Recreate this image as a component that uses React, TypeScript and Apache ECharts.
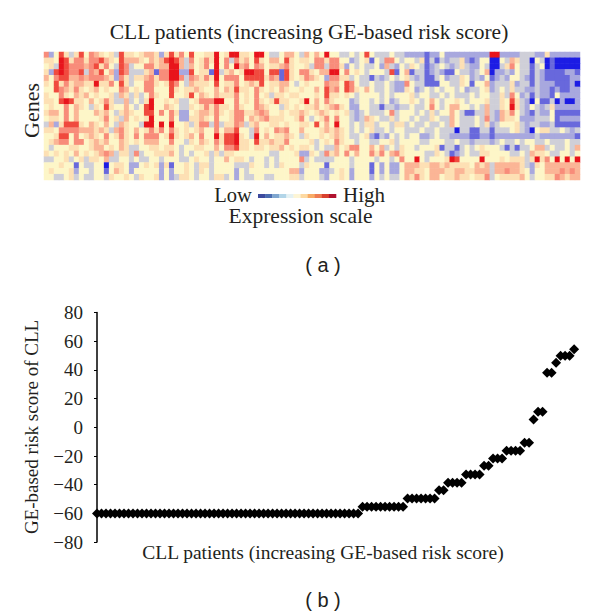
import React, { useEffect, useRef } from "react";
import * as echarts from "echarts";

// Expression level (0 = strong blue ... 9 = bright red), per block of columns
const blockA = [
  "724853584765453855","554985775778654866","453987776785743873","528987783768462873",
  "647886676777652753","548575665595574853","448765754564544764","544754656454453653",
  "554898554645753363","454474654354854464","566474644465643565","455474644445745364",
  "362588854654643654","554777766656536754","445884745654745754","456774774565644654",
  "434445544566454653","545454645456763553","334453453554633443","444544143344045542",
  "454445244344146542","443345343344354454",
];
const blockB = [
  "456652585748445594","654656898637457594","447756699636457494","335617799228455193",
  "556757799737657594","447754587436555484","547744485455654464","534754484458465465",
  "435944545334577799","348944654335457575","448847475224566575","545944474225565474",
  "439949494453577373","645757475454564474","747774585456474495","546664474435465475",
  "344554554344554464","734455564343445353","433443444334544344","245452514454355344",
  "444442424454354344","354452423554344355",
];
const blockC = [
  "599554994334664364","737564854664854554","749674764556754453","564599884881854775",
  "777488885761854576","557456584556643454","658554754546544544","557454745355455444",
  "447454754585544594","547544765443545455","457755676445455654","457746567555445743",
  "557635644554544554","668443745476744644","889543946455654354","889554855655744445",
  "778554554556454554","554444444334445225","645543443434444734","443335443435444354",
  "442434444444466244","342433443344455344",
];
const blockD = [
  "649443343484333433","775774423451437743","773775243433426324","466994745434443814",
  "542775534331323434","447664874334334322","648674875464334322","548554543444434344",
  "647544423443434234","645675422443313323","565454532343334734","457474432365433534",
  "846494434355344355","456565434345334344","454565433452132434","345475443443344534",
  "343364577446463435","437564746447574675","333344434444344347","441444434441424224",
  "422345424441424224","432445424442434334",
];
const blockE = [
  "222212242222222229","443513132335212440","354312343235322430","613312321143323460",
  "532311342335423241","743311144335414462","542343434434233452","453443343433343443",
  "454346434454344453","343347434664434363","443435344643113363","434335433643334373",
  "343343343643334352","333433433303311331","344223433222211221","444334443343323332",
  "443444513313434544","444433543123433554","449434445984444944","666556656555546563",
  "665546665566556663","657546645565545573",
];
const blockF = [
  "92222333225222222","04365330430100000","03574331340100000","22324331321111221",
  "23244321321111122","33352331322211120","34353322322121122","35374231322142222",
  "35485320411302002","35495324323522222","26574321322411111","26554222333412222",
  "34445323322311111","33345320455334323","22222222322222221","34334344334333433",
  "43131334663433436","44433436554334434","45455535957494949","66666532546666666",
  "66766542446667676","45555643445576566",
];
const levelColors = [
  "#1c1ce4","#6868dc","#a8a8de","#cfcfd8","#fdf6c8",
  "#fde0b4","#fbb596","#f88c7a","#f04a3e","#e8141c",
];
const legendColors = [
  "#3d4a9e","#4a6cb0","#7fa6cf","#b2d5e8","#e4f1f3","#fdf5d5",
  "#fdd9a2","#f8ab66","#ee7c52","#d8412f","#b0122f",
];
// GE-based risk score per patient, in order
const riskFlat = [
  -60,-60,-60,-60,-60,-60,-60,-60,-60,-60,
  -60,-60,-60,-60,-60,-60,-60,-60,-60,-60,
  -60,-60,-60,-60,-60,-60,-60,-60,-60,-60,
  -60,-60,-60,-60,-60,-60,-60,-60,-60,-60,
  -60,-60,-60,-60,-60,-60,-60,-60,-60,-60,
  -60,-60,-60,-60,-60,-60,-60,-60,-60,
];
const riskRising = [
  -55.4,-55.4,-55.4,-55.4,-55.4,-55.4,-55.4,-55.4,-55.4,-55.4,
  -49.6,-49.6,-49.6,-49.6,-49.6,-49.6,-49.6,
  -43.8,-43.8,
  -38.7,-38.7,-38.7,-38.7,
  -32.9,-32.9,-32.9,-32.9,
  -26.8,-26.8,
  -21.7,-21.7,-21.7,
  -16.4,-16.4,-16.4,-16.4,
  -10.8,-10.8,
  5.5,10.8,10.8,38,38,45,49.9,49.9,49.9,54.4,
];
const heatTitle = "CLL patients (increasing GE-based risk score)";
const scatterXName = "CLL patients (increasing GE-based risk score)";
const scatterYName = "GE-based risk score of CLL";

const SERIF = "'Liberation Serif', serif";
const SANS = "'Liberation Sans', sans-serif";

export default function App() {
  const ref = useRef<HTMLDivElement>(null);
  useEffect(() => {
    if (!ref.current) return;
    const chart = echarts.init(ref.current, undefined, { renderer: "svg" });
    const rows = blockA.map((_, r) =>
      blockA[r] + blockB[r] + blockC[r] + blockD[r] + blockE[r] + blockF[r]
    );
    const nCols = rows[0].length;
    const heat: number[][] = [];
    rows.forEach((row, r) => {
      for (let c = 0; c < row.length; c++) heat.push([c, r, Number(row[c])]);
    });
    const risk = [...riskFlat, ...riskRising];
    const text = (
      t: string, x: number, y: number, size: number,
      extra: Record<string, unknown> = {}, font = SERIF
    ) => ({
      type: "text", x, y, ...extra,
      style: { text: t, fontFamily: font, fontSize: size, fill: "#231f20", align: "center", verticalAlign: "middle" },
    });
    const legendX = 258, legendW = 78;
    chart.setOption({
      animation: false,
      backgroundColor: "#ffffff",
      grid: [
        { left: 44, top: 52, width: 536, height: 128 },
        { left: 94, top: 312.6, width: 490, height: 229.5 },
      ],
      xAxis: [
        { type: "category", gridIndex: 0, show: false, data: Array.from({ length: nCols }, (_, i) => i) },
        { type: "value", gridIndex: 1, show: false, min: -0.67, max: 108.2 },
      ],
      yAxis: [
        { type: "category", gridIndex: 0, show: false, inverse: true, data: rows.map((_, i) => i) },
        {
          type: "value", gridIndex: 1, min: -80, max: 80, interval: 20,
          axisLine: { show: true, lineStyle: { color: "#000", width: 1.5 } },
          axisTick: { show: true, length: 3, lineStyle: { color: "#000", width: 1 } },
          splitLine: { show: false },
          axisLabel: {
            fontFamily: SERIF, fontSize: 19, color: "#231f20", margin: 11,
            formatter: (v: number) => String(v).replace("-", "\u2212"),
          },
        },
      ],
      visualMap: {
        show: false, type: "piecewise", seriesIndex: 0, dimension: 2,
        pieces: levelColors.map((color, i) => ({ value: i, color })),
      },
      series: [
        {
          type: "heatmap", xAxisIndex: 0, yAxisIndex: 0, data: heat,
          progressive: 0, itemStyle: { borderWidth: 0 },
          emphasis: { disabled: true },
        },
        {
          type: "scatter", xAxisIndex: 1, yAxisIndex: 1,
          data: risk.map((v, i) => [i, v]),
          symbol: "diamond", symbolSize: 10,
          itemStyle: { color: "#000", opacity: 1 },
        },
      ],
      graphic: [
        text(heatTitle, 309, 32, 21.5),
        text("Genes", 31, 110.5, 22, { rotation: Math.PI / 2 }),
        text("Low", 233, 195, 20.5),
        text("High", 364, 195, 21),
        text("Expression scale", 300.5, 216, 21.5),
        text("( a )", 323, 265, 20, {}, SANS),
        text(scatterXName, 323, 552, 19.5),
        text(scatterYName, 31, 427, 19, { rotation: Math.PI / 2 }),
        text("( b )", 323, 600, 20, {}, SANS),
        ...legendColors.map((fill, i) => ({
          type: "rect",
          shape: { x: legendX + (i * legendW) / legendColors.length, y: 194, width: legendW / legendColors.length + 0.3, height: 4 },
          style: { fill },
        })),
      ],
    });
    return () => chart.dispose();
  }, []);
  return <div ref={ref} style={{ position: "absolute", left: 0, top: 0, width: 600, height: 616 }} />;
}
